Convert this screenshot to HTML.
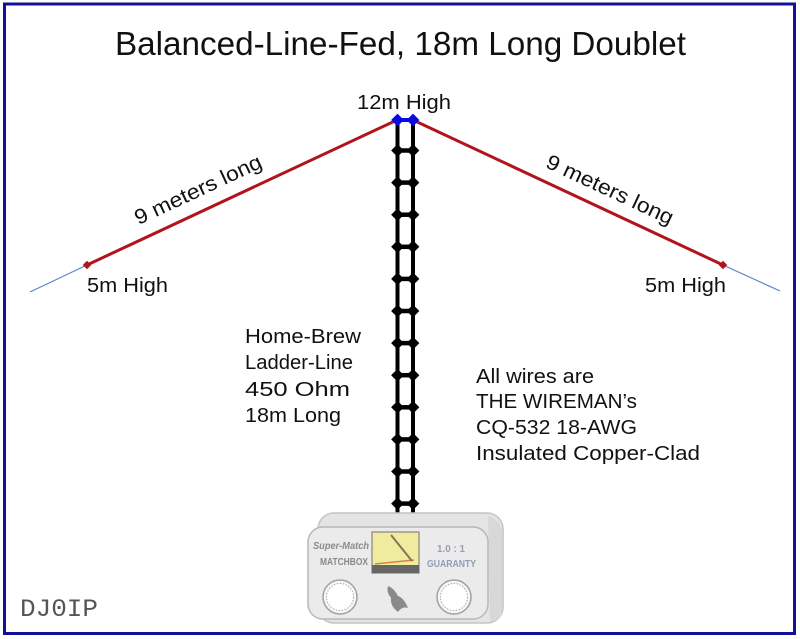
<!DOCTYPE html>
<html><head><meta charset="utf-8"><style>
html,body{margin:0;padding:0;background:#fff;}
svg{display:block;}
text{font-family:"Liberation Sans",sans-serif;fill:#111;}
</style></head><body>
<svg width="800" height="639" viewBox="0 0 800 639" xmlns="http://www.w3.org/2000/svg">
<rect x="0" y="0" width="800" height="639" fill="#fff"/>
<!-- frame -->
<rect x="4.5" y="4" width="790" height="629.5" fill="none" stroke="#10109a" stroke-width="3"/>

<!-- title -->
<text x="115" y="55" font-size="33" textLength="571" lengthAdjust="spacingAndGlyphs">Balanced-Line-Fed,  18m Long Doublet</text>

<!-- blue extension lines -->
<line x1="87" y1="265" x2="30" y2="292" stroke="#5a84c8" stroke-width="1.2"/>
<line x1="723" y1="265" x2="780" y2="291" stroke="#5a84c8" stroke-width="1.2"/>

<!-- red wires -->
<line x1="397" y1="120" x2="87" y2="265" stroke="#b0141c" stroke-width="3"/>
<line x1="413" y1="120" x2="723" y2="265" stroke="#b0141c" stroke-width="3"/>
<rect x="84" y="262" width="6" height="6" fill="#b0141c" transform="rotate(45 87 265)"/>
<rect x="720" y="262" width="6" height="6" fill="#b0141c" transform="rotate(45 723 265)"/>

<!-- ladder rails -->
<line x1="397.5" y1="120" x2="397.5" y2="520" stroke="#000" stroke-width="4"/>
<line x1="413" y1="120" x2="413" y2="520" stroke="#000" stroke-width="4"/>
<g fill="#000" stroke="#000">
<g id="r0">
<line x1="397.5" y1="150.5" x2="413" y2="150.5" stroke-width="4.5"/>
<rect x="393" y="146" width="9" height="9" transform="rotate(45 397.5 150.5)" stroke="none"/>
<rect x="408.5" y="146" width="9" height="9" transform="rotate(45 413 150.5)" stroke="none"/>
</g>
<use href="#r0" y="32.1"/>
<use href="#r0" y="64.2"/>
<use href="#r0" y="96.3"/>
<use href="#r0" y="128.4"/>
<use href="#r0" y="160.5"/>
<use href="#r0" y="192.6"/>
<use href="#r0" y="224.7"/>
<use href="#r0" y="256.8"/>
<use href="#r0" y="288.9"/>
<use href="#r0" y="321"/>
<use href="#r0" y="353.1"/>
</g>

<!-- blue top -->
<line x1="397.5" y1="120" x2="413" y2="120" stroke="#0a0ae0" stroke-width="4"/>
<rect x="393" y="115.5" width="9" height="9" fill="#0a0ae0" transform="rotate(45 397.5 120)"/>
<rect x="408.5" y="115.5" width="9" height="9" fill="#0a0ae0" transform="rotate(45 413 120)"/>

<!-- labels -->
<text x="357" y="109" font-size="20" textLength="94" lengthAdjust="spacingAndGlyphs">12m High</text>
<text x="201" y="196" font-size="21" text-anchor="middle" textLength="138" lengthAdjust="spacingAndGlyphs" transform="rotate(-25 201 196)">9 meters long</text>
<text x="607" y="196" font-size="21" text-anchor="middle" textLength="138" lengthAdjust="spacingAndGlyphs" transform="rotate(25 607 196)">9 meters long</text>
<text x="87" y="292" font-size="20" textLength="81" lengthAdjust="spacingAndGlyphs">5m High</text>
<text x="645" y="292" font-size="20" textLength="81" lengthAdjust="spacingAndGlyphs">5m High</text>

<text x="245" y="343" font-size="20" textLength="116" lengthAdjust="spacingAndGlyphs">Home-Brew</text>
<text x="245" y="369" font-size="20" textLength="108" lengthAdjust="spacingAndGlyphs">Ladder-Line</text>
<text x="245" y="396" font-size="20" textLength="105" lengthAdjust="spacingAndGlyphs">450 Ohm</text>
<text x="245" y="422" font-size="20" textLength="96" lengthAdjust="spacingAndGlyphs">18m Long</text>

<text x="476" y="383" font-size="20" textLength="118" lengthAdjust="spacingAndGlyphs">All wires are</text>
<text x="476" y="408" font-size="20" textLength="161" lengthAdjust="spacingAndGlyphs">THE WIREMAN’s</text>
<text x="476" y="434" font-size="20" textLength="161" lengthAdjust="spacingAndGlyphs">CQ-532 18-AWG</text>
<text x="476" y="460" font-size="20" textLength="224" lengthAdjust="spacingAndGlyphs">Insulated Copper-Clad</text>

<text x="20" y="616" font-size="25" style="font-family:'Liberation Mono',monospace;fill:#555" textLength="78" lengthAdjust="spacingAndGlyphs">DJ0IP</text>

<!-- matchbox -->
<g>
<rect x="318" y="513" width="185" height="110" rx="16" ry="16" fill="#e4e4e4" stroke="#c4c4c4" stroke-width="1.5"/>
<path d="M488 516 Q502 520 502 534 L502 610 Q502 620 490 622 Z" fill="#d8d8d8"/>
<rect x="308" y="527" width="180" height="92" rx="15" ry="15" fill="#ebebeb" stroke="#b8b8b8" stroke-width="1.5"/>
<rect x="372" y="532" width="47" height="41" fill="#f0ec9e" stroke="#9a9a8a" stroke-width="1.5"/>
<rect x="372" y="565" width="47" height="8" fill="#666"/>
<line x1="375" y1="564" x2="414" y2="560" stroke="#d88050" stroke-width="1.5"/>
<line x1="391" y1="535" x2="412" y2="561" stroke="#8a7060" stroke-width="2"/>
<text x="313" y="549" font-size="10" font-style="italic" font-weight="bold" style="fill:#8a8a8a" textLength="56" lengthAdjust="spacingAndGlyphs">Super-Match</text>
<text x="320" y="565" font-size="10" font-weight="bold" style="fill:#8a8a8a" textLength="48" lengthAdjust="spacingAndGlyphs">MATCHBOX</text>
<text x="437" y="552" font-size="10" font-weight="bold" style="fill:#9aa0b0" textLength="28" lengthAdjust="spacingAndGlyphs">1.0 : 1</text>
<text x="427" y="567" font-size="10" font-weight="bold" style="fill:#8f9cb8" textLength="49" lengthAdjust="spacingAndGlyphs">GUARANTY</text>
<circle cx="340" cy="597" r="17" fill="#f6f6f6" stroke="#a0a0a0" stroke-width="1.5"/>
<circle cx="340" cy="597" r="13.5" fill="#fff" stroke="#aaa" stroke-width="1" stroke-dasharray="1.5 1.5"/>
<circle cx="454" cy="597" r="17" fill="#f6f6f6" stroke="#a0a0a0" stroke-width="1.5"/>
<circle cx="454" cy="597" r="13.5" fill="#fff" stroke="#aaa" stroke-width="1" stroke-dasharray="1.5 1.5"/>
<path d="M388 586 Q394 588 398 596 Q404 598 408 608 Q402 606 398 612 Q390 606 391 598 Q386 592 388 586 Z" fill="#8a8a8a"/>
</g>
</svg>
</body></html>
